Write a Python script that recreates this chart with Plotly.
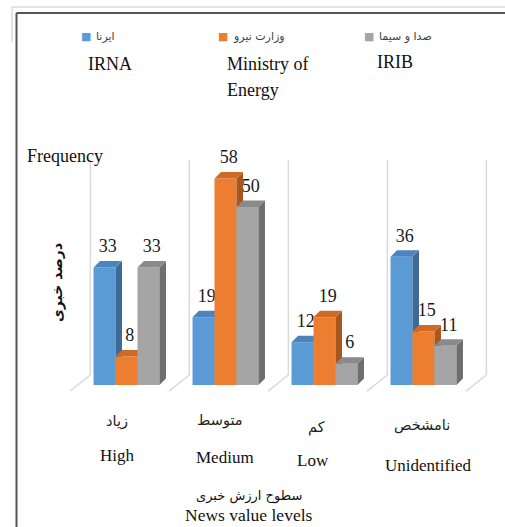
import plotly.graph_objects as go

# data
categorias_fa = ["زیاد", "متوسط", "کم", "نامشخص"]
categorias_en = ["High", "Medium", "Low", "Unidentified"]
serie_fa = ["ایرنا", "وزارت نیرو", "صدا و سیما"]
serie_en = ["IRNA", "Ministry of", "IRIB"]
irna = [33, 19, 12, 36]
ministerio = [8, 58, 19, 15]
irib = [33, 50, 6, 11]
valores = [irna, ministerio, irib]

# colours: front / side / top
CORES = [
    ("#5B9BD5", "#3D6B96", "#4C84BD"),
    ("#ED7D31", "#A8571F", "#CF6A25"),
    ("#A5A5A5", "#6E6E6E", "#8A8A8A"),
]
SERIF = "Liberation Serif"
ARAB = "DejaVu Sans"

W, H = 505, 527
PX_UNIT = 99.0      # px per category
PX_VAL = 3.56       # px per value unit
X0_PX, Y0_PX = 126.5, 385.0
LARG = 0.222        # bar width (category units)
DX = 6.5 / PX_UNIT  # depth offsets
DY = 6.5 / PX_VAL


def px(x):
    return x / W


def py(y):
    return 1 - y / H


def nota(x, y, texto, size, fam, cor="#111111", **kw):
    d = dict(x=px(x), y=py(y), xref="paper", yref="paper", text=texto, showarrow=False,
             font=dict(size=size, color=cor, family=fam), xanchor="center", yanchor="middle")
    d.update(kw)
    return d


fig = go.Figure()

for s, vals in enumerate(valores):
    frente_x, frente_y, lado_x, lado_y, topo_x, topo_y = [], [], [], [], [], []
    for i, v in enumerate(vals):
        x0 = i + (s - 1.5) * LARG
        x1 = x0 + LARG
        frente_x += [x0, x1, x1, x0, x0, None]
        frente_y += [0, 0, v, v, 0, None]
        lado_x += [x1, x1 + DX, x1 + DX, x1, x1, None]
        lado_y += [0, DY, v + DY, v, 0, None]
        topo_x += [x0, x1, x1 + DX, x0 + DX, x0, None]
        topo_y += [v, v, v + DY, v + DY, v, None]
    frente, lado, topo = CORES[s]
    for xs, ys, cor in [(frente_x, frente_y, frente), (lado_x, lado_y, lado), (topo_x, topo_y, topo)]:
        fig.add_trace(go.Scatter(
            x=xs, y=ys, fill="toself", fillcolor=cor, mode="lines",
            line=dict(width=0, color=cor), hoverinfo="skip", showlegend=False,
        ))
    fig.add_trace(go.Scatter(
        x=[i + (s - 1) * LARG + DX / 2 for i in range(len(vals))],
        y=[v + DY + 1.2 for v in vals],
        text=[str(v) for v in vals], mode="text", textposition="top center",
        textfont=dict(family=SERIF, size=18, color="#1a1a1a"),
        hoverinfo="skip", showlegend=False,
    ))

# back-wall / floor lines
for k in range(5):
    xb = k - 0.365
    xf = k - 0.57
    fig.add_shape(type="line", x0=xb, x1=xb, y0=63.2, y1=2.8, layer="below",
                  line=dict(color="#D9D9D9", width=1.5))
    fig.add_shape(type="line", x0=xb, x1=xf, y0=2.8, y1=-1.7, layer="below",
                  line=dict(color="#D9D9D9", width=1.5))

# frame
fig.add_shape(type="line", xref="paper", yref="paper", x0=px(12), x1=1, y0=py(7), y1=py(7),
              line=dict(color="#DADADA", width=1.5))
fig.add_shape(type="line", xref="paper", yref="paper", x0=px(12), x1=px(12), y0=py(7), y1=py(42),
              line=dict(color="#DADADA", width=1.5))
fig.add_shape(type="line", xref="paper", yref="paper", x0=px(16.5), x1=1, y0=py(13), y1=py(13),
              line=dict(color="#555555", width=2))
fig.add_shape(type="line", xref="paper", yref="paper", x0=px(16.5), x1=px(16.5), y0=py(13), y1=0,
              line=dict(color="#555555", width=2))

anot = []
# legend
leg_sq = [85.5, 222.5, 369]
for s in range(3):
    anot.append(nota(leg_sq[s], 36, "■", 11, ARAB, cor=CORES[s][0]))
    anot.append(nota(leg_sq[s] + 8, 36, serie_fa[s], 11, ARAB, cor="#404040", xanchor="left"))
leg_en = [(86, 64), (225, 64), (375, 62)]
for s in range(3):
    anot.append(nota(leg_en[s][0], leg_en[s][1], serie_en[s], 18, SERIF, xanchor="left"))
anot.append(nota(225, 90, "Energy", 18, SERIF, xanchor="left"))

anot.append(nota(25, 156, "Frequency", 18, SERIF, xanchor="left"))
anot.append(nota(57, 283, "<b>درصد خبری</b>", 14, ARAB, textangle=-90))

cat_fa_pos = [(117, 421), (220, 420), (316, 427), (422, 425)]
cat_en_pos = [(117, 455), (225, 457), (313, 460), (428, 465)]
for i in range(4):
    anot.append(nota(cat_fa_pos[i][0], cat_fa_pos[i][1], categorias_fa[i], 14.5, ARAB, cor="#222222"))
    anot.append(nota(cat_en_pos[i][0], cat_en_pos[i][1], categorias_en[i], 17, SERIF))

anot.append(nota(249, 496, "سطوح ارزش خبری", 13, ARAB))
anot.append(nota(249, 515, "News value levels", 17.5, SERIF))

fig.update_layout(
    width=W, height=H,
    margin=dict(l=0, r=0, t=0, b=0),
    paper_bgcolor="white", plot_bgcolor="white",
    showlegend=False,
    annotations=anot,
    xaxis=dict(range=[-X0_PX / PX_UNIT, (W - X0_PX) / PX_UNIT], visible=False, fixedrange=True),
    yaxis=dict(range=[(Y0_PX - H) / PX_VAL, Y0_PX / PX_VAL], visible=False, fixedrange=True),
)

fig.write_html("out.html", config={"displayModeBar": False},
               post_script="document.body.style.margin='0';document.body.style.overflow='hidden';")
